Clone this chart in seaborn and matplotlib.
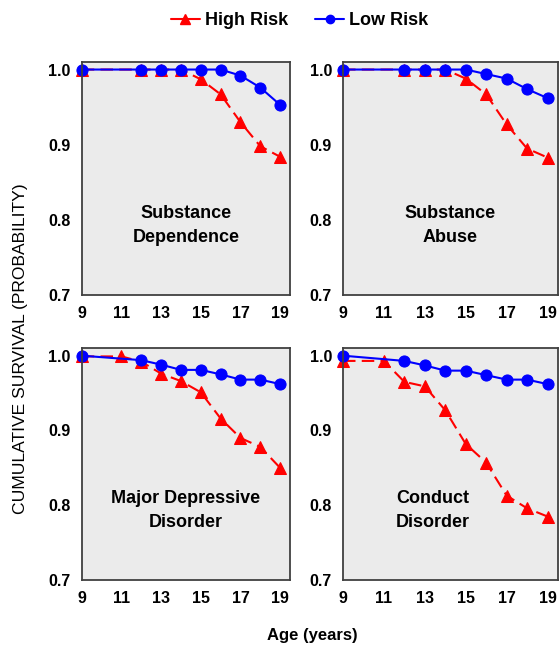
import seaborn as sns
import pandas as pd
import matplotlib.pyplot as plt
from matplotlib.lines import Line2D

sns.set_style("white")
plt.rcParams["font.family"] = ["Liberation Sans", "DejaVu Sans"]
plt.rcParams["text.color"] = "black"
plt.rcParams["xtick.color"] = "black"
plt.rcParams["ytick.color"] = "black"

# ---------------- data ----------------
panels = ["Substance\nDependence", "Substance\nAbuse",
          "Major Depressive\nDisorder", "Conduct\nDisorder"]

ages_sd = [9, 12, 13, 14, 15, 16, 17, 18, 19]
high_sd = [1.0, 1.0, 1.0, 1.0, 0.987, 0.967, 0.930, 0.898, 0.884]
low_sd = [1.0, 1.0, 1.0, 1.0, 1.0, 1.0, 0.992, 0.976, 0.953]

ages_sa = [9, 12, 13, 14, 15, 16, 17, 18, 19]
high_sa = [1.0, 1.0, 1.0, 1.0, 0.988, 0.967, 0.927, 0.895, 0.883]
low_sa = [1.0, 1.0, 1.0, 1.0, 1.0, 0.994, 0.988, 0.974, 0.962]

ages_mdd_high = [9, 11, 12, 13, 14, 15, 16, 17, 18, 19]
high_mdd = [0.999, 0.999, 0.992, 0.976, 0.966, 0.951, 0.916, 0.890, 0.878, 0.850]
ages_mdd_low = [9, 12, 13, 14, 15, 16, 17, 18, 19]
low_mdd = [1.0, 0.994, 0.988, 0.981, 0.981, 0.975, 0.968, 0.968, 0.962]

ages_cd_high = [9, 11, 12, 13, 14, 15, 16, 17, 18, 19]
high_cd = [0.993, 0.993, 0.965, 0.959, 0.927, 0.882, 0.857, 0.813, 0.796, 0.785]
ages_cd_low = [9, 12, 13, 14, 15, 16, 17, 18, 19]
low_cd = [1.0, 0.993, 0.987, 0.980, 0.980, 0.974, 0.968, 0.968, 0.962]

series = [
    (ages_sd, high_sd, ages_sd, low_sd),
    (ages_sa, high_sa, ages_sa, low_sa),
    (ages_mdd_high, high_mdd, ages_mdd_low, low_mdd),
    (ages_cd_high, high_cd, ages_cd_low, low_cd),
]

x_ticks = [9, 11, 13, 15, 17, 19]
y_ticks = [0.7, 0.8, 0.9, 1.0]

red = "#ff0000"
blue = "#0000ff"

fig = plt.figure(figsize=(5.6, 6.46), dpi=100)
boxes = [
    [0.146, 0.543, 0.372, 0.361],
    [0.6125, 0.543, 0.3835, 0.361],
    [0.146, 0.102, 0.372, 0.359],
    [0.6125, 0.102, 0.3835, 0.359],
]
label_x = [0.5, 0.5, 0.5, 0.42]

for i, (name, (xh, yh, xl, yl)) in enumerate(zip(panels, series)):
    ax = fig.add_axes(boxes[i])
    ax.set_facecolor("#ebebeb")
    hi = pd.DataFrame({"age": xh, "surv": yh})
    lo = pd.DataFrame({"age": xl, "surv": yl})
    sns.lineplot(data=hi, x="age", y="surv", ax=ax, color=red, lw=1.5,
                 marker="^", markersize=8, markeredgecolor=red,
                 dashes=False, clip_on=False)
    ax.lines[-1].set_dashes((6, 3))
    sns.lineplot(data=lo, x="age", y="surv", ax=ax, color=blue, lw=1.5,
                 marker="o", markersize=8, markeredgecolor=blue,
                 clip_on=False)
    ax.set_xlim(9, 19.5)
    ax.set_ylim(0.7, 1.01)
    ax.set_xticks(x_ticks)
    ax.set_yticks(y_ticks)
    ax.set_yticklabels([f"{v:.1f}" for v in y_ticks])
    ax.tick_params(length=0, labelsize=11.5, pad=8)
    for lab in ax.get_xticklabels() + ax.get_yticklabels():
        lab.set_fontweight("bold")
    ax.set_xlabel("")
    ax.set_ylabel("")
    for sp in ax.spines.values():
        sp.set_color("#404040")
        sp.set_linewidth(1.3)
    ax.text(label_x[i], 0.30, name, transform=ax.transAxes, ha="center",
            va="center", fontsize=13, fontweight="bold", linespacing=1.55)

# Shared labels
fig.text(0.036, 0.461, "CUMULATIVE SURVIVAL (PROBABILITY)", rotation=90,
         ha="center", va="center", fontsize=12.6)
fig.text(0.557, 0.016, "Age (years)", ha="center", va="center",
         fontsize=12, fontweight="bold")

handles = [
    Line2D([], [], color=red, marker="^", markersize=7, lw=1.5),
    Line2D([], [], color=blue, marker="o", markersize=6, lw=1.5),
]
fig.legend(handles, ["High Risk", "Low Risk"], loc="center",
           bbox_to_anchor=(0.535, 0.968), ncol=2, frameon=False,
           prop={"weight": "bold", "size": 13}, handlelength=1.6,
           handletextpad=0.3, columnspacing=1.5)

plt.savefig("out.png", dpi=100)
